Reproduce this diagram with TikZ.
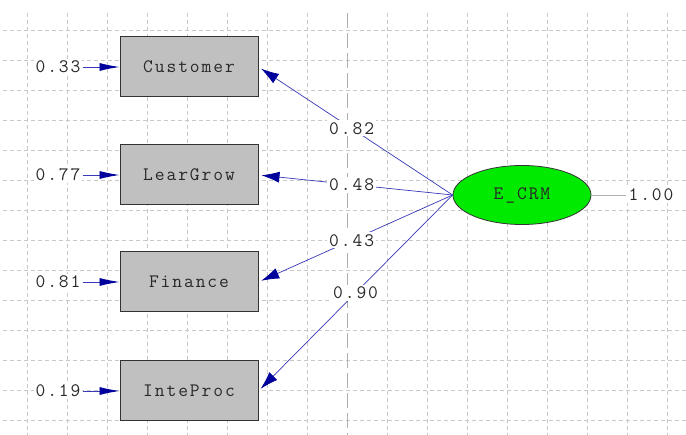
\documentclass[tikz,border=0pt]{standalone}
\usepackage{fontspec}
\setmonofont{Latin Modern Mono}[LetterSpace=10]
\usetikzlibrary{arrows.meta,shapes.geometric}
\definecolor{gridc}{HTML}{C8C8C8}
\definecolor{axisc}{HTML}{B0B0B0}
\definecolor{boxc}{HTML}{C0C0C0}
\definecolor{latc}{HTML}{00EA00}
\definecolor{linec}{HTML}{3838B8}
\definecolor{tipc}{HTML}{00009C}
\definecolor{txtc}{HTML}{282828}
\begin{document}
\begin{tikzpicture}[x=1pt,y=-1pt,
  font=\ttfamily\fontsize{19}{19}\selectfont,
  gridline/.style={draw=gridc, line width=0.9pt, dash pattern=on 4pt off 3pt},
  axisline/.style={draw=axisc, line width=1pt, dash pattern=on 15pt off 5pt},
  obsbox/.style={draw=black!80, fill=boxc, line width=1pt, minimum width=138pt, minimum height=60pt, text=txtc},
  latnode/.style={ellipse, draw=black!80, fill=latc, line width=0.8pt, minimum width=138pt, minimum height=59pt, text=txtc},
  numlbl/.style={fill=white, text=txtc, inner sep=2pt},
  errarrow/.style={draw=linec, line width=0.8pt, -{Latex[length=20pt,width=8pt,color=tipc]}},
  patharrow/.style={draw=linec, line width=0.7pt, shorten >=3pt, -{Latex[length=18pt,width=11pt,color=tipc]}}
]
\useasboundingbox (0,0) rectangle (686,435);
\fill[white] (0,0) rectangle (686,435);
% grid
\foreach \yy in {30,60,...,420} \draw[gridline] (3,\yy) -- (686,\yy);
\foreach \xx in {27,67,...,307} \draw[gridline] (\xx,13) -- (\xx,435);
\foreach \xx in {387,427,...,667} \draw[gridline] (\xx,13) -- (\xx,435);
\draw[axisline] (347,13) -- (347,435);
% observed variables
\node[obsbox] (C) at (189,67) {Customer};
\node[obsbox] (L) at (189,175) {LearGrow};
\node[obsbox] (F) at (189,282) {Finance};
\node[obsbox] (I) at (189,391) {InteProc};
% error variances
\node[numlbl] (eC) at (58,67) {0.33};
\node[numlbl] (eL) at (58,175) {0.77};
\node[numlbl] (eF) at (58,282) {0.81};
\node[numlbl] (eI) at (58,391) {0.19};
\draw[errarrow] (eC.east) -- (C.west);
\draw[errarrow] (eL.east) -- (L.west);
\draw[errarrow] (eF.east) -- (F.west);
\draw[errarrow] (eI.east) -- (I.west);
% latent
\node[latnode] (E) at (522,195) {E\_CRM};
\node[numlbl] (vE) at (651,195) {1.00};
\draw[draw=gray!60, line width=0.8pt] (E.east) -- (vE.west);
% loadings
\draw[patharrow] (E.west) -- node[numlbl, pos=0.52] {0.82} (C.east);
\draw[patharrow] (E.west) -- node[numlbl, pos=0.52] {0.48} (L.east);
\draw[patharrow] (E.west) -- node[numlbl, pos=0.52] {0.43} (F.east);
\draw[patharrow] (E.west) -- node[numlbl, pos=0.50] {0.90} (I.east);
\end{tikzpicture}
\end{document}
